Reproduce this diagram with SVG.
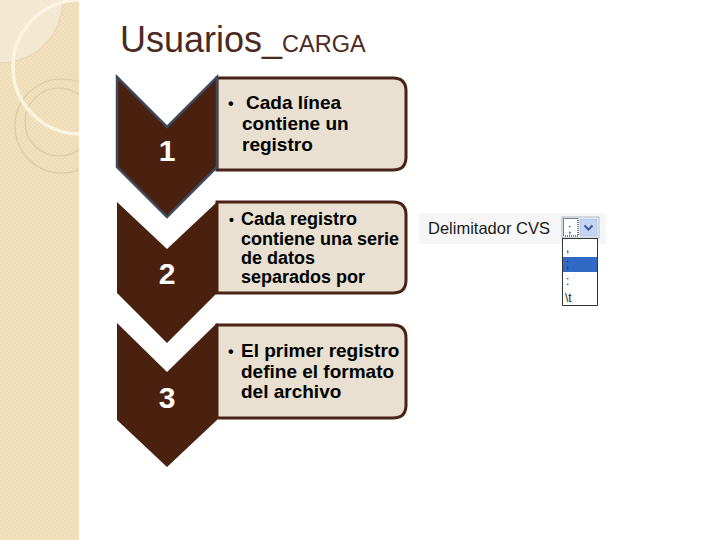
<svg xmlns="http://www.w3.org/2000/svg" width="720" height="540" viewBox="0 0 720 540">
  <defs>
    <pattern id="checker" width="4" height="4" patternUnits="userSpaceOnUse">
      <rect width="4" height="4" fill="#F2E2C0"/>
      <rect width="2" height="2" fill="#EEDBB5"/>
      <rect x="2" y="2" width="2" height="2" fill="#EEDBB5"/>
    </pattern>
    <clipPath id="stripClip"><rect x="0" y="0" width="79" height="540"/></clipPath>
  </defs>
  <style>
    .chev { fill: #4A200E; }
    .box { fill: #E9E0D1; stroke: #4A2216; stroke-width: 3; }
    .num { font-family: "Liberation Sans", Arial, sans-serif; font-weight: bold; font-size: 30px; fill: #FFFFFF; text-anchor: middle; }
    .txt { font-family: "Liberation Sans", Arial, sans-serif; font-weight: bold; fill: #000000; }
    .ui { font-family: "Liberation Sans", Arial, sans-serif; fill: #1A1A1A; }
  </style>

  <rect width="720" height="540" fill="#FFFFFF"/>

  <!-- decorative left strip -->
  <g id="strip" clip-path="url(#stripClip)">
    <rect x="0" y="0" width="79" height="540" fill="url(#checker)"/>
    <circle cx="0" cy="0" r="63" fill="#F5EBDA" opacity="0.75"/>
    <circle cx="0" cy="0" r="63" fill="none" stroke="#E3D3B4" stroke-width="1"/>
    <circle cx="62" cy="126" r="47" fill="none" stroke="#DCC9A4" stroke-width="1.2"/>
    <circle cx="59" cy="122" r="34" fill="none" stroke="#DCC9A4" stroke-width="1.2"/>
    <circle cx="80" cy="67" r="67" fill="none" stroke="#FBF4E2" stroke-width="3.5"/>
  </g>

  <!-- title -->
  <g id="title">
    <text x="120" y="52" font-family="Liberation Sans, Arial, sans-serif" fill="#4B2A22"><tspan font-size="36">Usuarios_</tspan><tspan font-size="23.5">CARGA</tspan></text>
  </g>

  <!-- step 3 -->
  <g id="step3">
    <path class="box" d="M217,325 H393 Q406,325 406,338 V405 Q406,418 393,418 H217 Z"/>
    <path class="chev" d="M117,323 L167,372 L217,323 V420 L167,467 L117,420 Z"/>
    <text class="num" x="167" y="408">3</text>
    <text class="txt" font-size="19"><tspan x="228" y="357" font-size="16">•</tspan><tspan x="241" y="357">El primer registro</tspan><tspan x="241" y="377.5">define el formato</tspan><tspan x="241" y="398">del archivo</tspan></text>
  </g>

  <!-- step 2 -->
  <g id="step2">
    <path class="box" d="M217,202 H393 Q406,202 406,215 V280 Q406,293 393,293 H217 Z"/>
    <path class="chev" d="M117,202 L167,249 L217,202 V293 L167,343 L117,293 Z"/>
    <text class="num" x="167" y="284">2</text>
    <text class="txt" font-size="18"><tspan x="229" y="225" font-size="14">•</tspan><tspan x="241" y="225">Cada registro</tspan><tspan x="241" y="244.5">contiene una serie</tspan><tspan x="241" y="264">de datos</tspan><tspan x="241" y="283">separados por</tspan></text>
  </g>

  <!-- step 1 -->
  <g id="step1">
    <path class="box" d="M217,78 H393 Q406,78 406,91 V157 Q406,170 393,170 H217 Z"/>
    <path class="chev" d="M117,77 L167,127 L217,77 V167 L167,217 L117,167 Z" stroke="#3D4A60" stroke-width="2.5" stroke-linejoin="miter"/>
    <text class="num" x="167" y="161">1</text>
    <text class="txt" font-size="19"><tspan x="228" y="109" font-size="16">•</tspan><tspan x="246" y="109">Cada línea</tspan><tspan x="242" y="130">contiene un</tspan><tspan x="242" y="150.5">registro</tspan></text>
  </g>

  <!-- connectors (none drawn in the picture) -->
  <g id="connectors"/>

  <!-- delimiter widget -->
  <g id="delimiter">
    <rect x="419" y="213" width="187" height="31" fill="#F6F6F6"/>
    <text class="ui" x="428" y="234" font-size="16.5" fill="#222222">Delimitador CVS</text>
    <rect x="562" y="217" width="37" height="21" fill="#FFFFFF" stroke="#A8B4C4" stroke-width="1"/>
    <rect x="563.5" y="218.5" width="14.5" height="17.5" fill="none" stroke="#000000" stroke-width="1" stroke-dasharray="1,1"/>
    <text class="ui" x="568" y="233" font-size="12">;</text>
    <rect x="580" y="219" width="17" height="17" fill="#C3D5F2" stroke="#AFC3E4" stroke-width="1"/>
    <path d="M584.5,225.5 L588.5,229.5 L592.5,225.5" fill="none" stroke="#3A5A9A" stroke-width="2"/>
    <rect x="562.5" y="238.5" width="35" height="67" fill="#FFFFFF" stroke="#333333" stroke-width="1"/>
    <rect x="563" y="257" width="34" height="15" fill="#316AC5"/>
    <text class="ui" x="566" y="252" font-size="12">,</text>
    <text class="ui" x="566" y="268" font-size="12" fill="#FFFFFF">;</text>
    <text class="ui" x="566" y="285" font-size="12">:</text>
    <text class="ui" x="565" y="302" font-size="12">\t</text>
  </g>
</svg>
